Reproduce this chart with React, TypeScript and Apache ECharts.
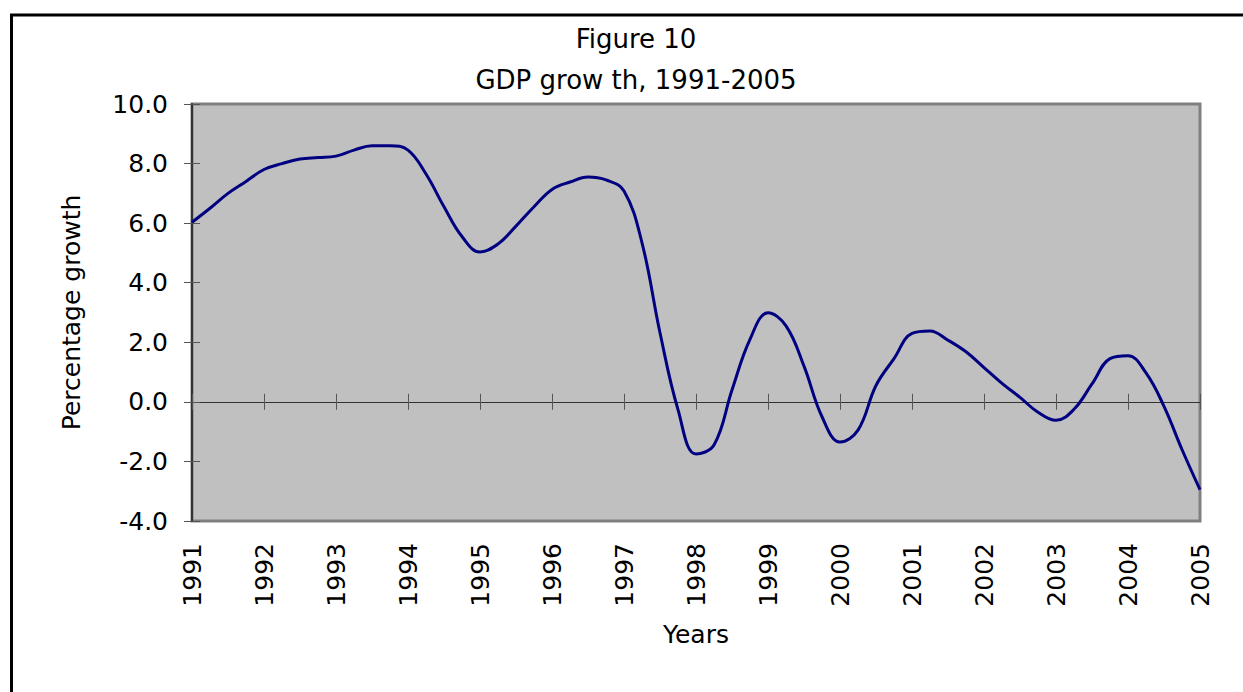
import React, { useEffect, useRef } from "react";
import * as echarts from "echarts";

const years = ["1991","1992","1993","1994","1995","1996","1997","1998","1999","2000","2001","2002","2003","2004","2005"];
const quarters = ["Q1","Q2","Q3","Q4"];
// Quarterly GDP growth (%)
const growth1991 = [6.03, 6.5, 7.0, 7.4];
const growth1992 = [7.8, 8.0, 8.15, 8.2];
const growth1993 = [8.25, 8.45, 8.6, 8.6];
const growth1994 = [8.45, 7.65, 6.55, 5.55];
const growth1995 = [5.03, 5.3, 5.9, 6.55];
const growth1996 = [7.13, 7.38, 7.55, 7.45];
const growth1997 = [7.08, 5.34, 2.32, -0.26];
const growth1998 = [-1.75, -1.45, 0.4, 2.1];
const growth1999 = [2.99, 2.55, 1.2, -0.5];
const growth2000 = [-1.35, -0.95, 0.55, 1.45];
const growth2001 = [2.3, 2.38, 2.07, 1.68];
const growth2002 = [1.15, 0.62, 0.15, -0.35];
const growth2003 = [-0.62, -0.25, 0.6, 1.45];
const growth2004 = [1.55, 0.97, -0.15, -1.6];
const growth2005 = [-2.95];

const yTicks = { min: -4, max: 10, interval: 2 };
const titleLines = ["Figure 10", "GDP grow th, 1991-2005"];
const yAxisName = "Percentage growth";
const xAxisName = "Years";

const values = [
  ...growth1991, ...growth1992, ...growth1993, ...growth1994, ...growth1995,
  ...growth1996, ...growth1997, ...growth1998, ...growth1999, ...growth2000,
  ...growth2001, ...growth2002, ...growth2003, ...growth2004, ...growth2005,
];
const categories: string[] = [];
years.forEach((y, i) => {
  if (i < years.length - 1) quarters.forEach((q) => categories.push(y + " " + q));
  else categories.push(y + " Q1");
});

const FONT = "DejaVu Sans";

export default function App() {
  const ref = useRef<HTMLDivElement>(null);
  useEffect(() => {
    if (!ref.current) return;
    const chart = echarts.init(ref.current, null, { renderer: "svg" });
    const gridLeft = 192;
    const gridRight = 43;
    const gridWidth = 1243 - gridLeft - gridRight;
    const xCommon = {
      type: "category" as const,
      data: categories,
      boundaryGap: false,
      splitLine: { show: false },
    };
    chart.setOption({
      animation: false,
      backgroundColor: "#ffffff",
      textStyle: { fontFamily: FONT },
      grid: {
        left: gridLeft,
        right: gridRight,
        top: 104,
        bottom: 171,
        containLabel: false,
        outerBoundsMode: "none",
        show: true,
        backgroundColor: "#C0C0C0",
        borderColor: "#808080",
        borderWidth: 3,
      },
      xAxis: [
        {
          ...xCommon,
          position: "bottom",
          axisLine: { show: true, onZero: true, onZeroAxisIndex: 0, lineStyle: { color: "#333", width: 1 } },
          axisTick: { show: true, interval: 3, length: 8, inside: false, lineStyle: { color: "#555", width: 1 } },
          axisLabel: {
            show: true,
            interval: 3,
            rotate: 90,
            margin: 22,
            fontSize: 25,
            color: "#000",
            fontFamily: FONT,
            formatter: (v: string) => v.split(" ")[0],
          },
          name: xAxisName,
          nameLocation: "middle",
          nameGap: 101,
          nameTextStyle: { fontSize: 25, color: "#000", fontFamily: FONT },
        },
        {
          ...xCommon,
          position: "top",
          axisLine: { show: false, onZero: true, onZeroAxisIndex: 0 },
          axisTick: { show: true, interval: 3, length: 8, inside: false, lineStyle: { color: "#555", width: 1 } },
          axisLabel: { show: false },
        },
      ],
      yAxis: [
        {
          type: "value",
          position: "left",
          min: yTicks.min,
          max: yTicks.max,
          interval: yTicks.interval,
          axisLine: { show: true, lineStyle: { color: "#333", width: 2 } },
          axisTick: { show: true, length: 8, lineStyle: { color: "#555", width: 1 } },
          axisLabel: {
            fontSize: 25,
            color: "#000",
            margin: 24,
            fontFamily: FONT,
            formatter: (v: number) => v.toFixed(1),
          },
          splitLine: { show: false },
          name: yAxisName,
          nameLocation: "middle",
          nameGap: 108,
          nameTextStyle: { fontSize: 25, color: "#000", fontFamily: FONT },
        },
        {
          type: "value",
          position: "right",
          offset: -gridWidth,
          min: yTicks.min,
          max: yTicks.max,
          interval: yTicks.interval,
          axisLine: { show: false },
          axisTick: { show: true, length: 8, lineStyle: { color: "#555", width: 1 } },
          axisLabel: { show: false },
          splitLine: { show: false },
        },
      ],
      graphic: [
        {
          type: "rect",
          shape: { x: 11.5, y: 15, width: 1300, height: 720 },
          style: { fill: "none", stroke: "#000", lineWidth: 3 },
          silent: true,
        },
        {
          type: "text",
          x: 636,
          y: 39,
          style: { text: titleLines[0], fontSize: 26, fontFamily: FONT, fill: "#000", textAlign: "center", textVerticalAlign: "middle" },
        },
        {
          type: "text",
          x: 636,
          y: 80,
          style: { text: titleLines[1], fontSize: 26, fontFamily: FONT, fill: "#000", textAlign: "center", textVerticalAlign: "middle" },
        },
      ],
      series: [
        {
          type: "line",
          data: values,
          xAxisIndex: 0,
          yAxisIndex: 0,
          smooth: 0.4,
          showSymbol: false,
          lineStyle: { color: "#000080", width: 3 },
          z: 5,
        },
      ],
    });
    return () => chart.dispose();
  }, []);
  return (
    <div
      ref={ref}
      style={{ position: "fixed", left: 0, top: 0, width: 1243, height: 692, background: "#fff" }}
    />
  );
}
